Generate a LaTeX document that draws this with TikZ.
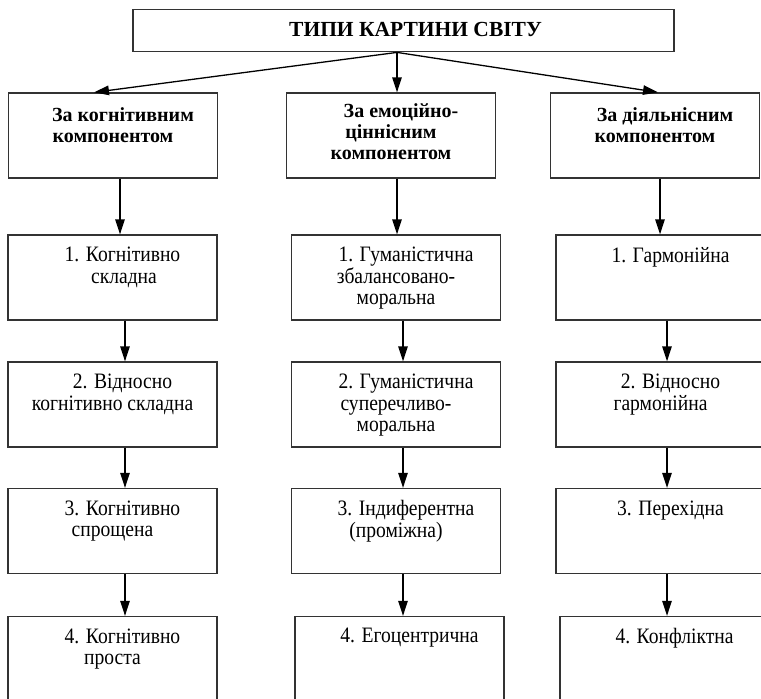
\documentclass[tikz,border=0pt]{standalone}
\usepackage{fontspec}
\setmainfont{Liberation Serif}
\newfontfamily\condfont{Liberation Serif}[FakeStretch=0.89]
\usetikzlibrary{positioning, arrows.meta, calc}
\newcommand{\indl}{\hspace*{20pt}}

\begin{document}
\begin{tikzpicture}[x=1pt, y=-1pt, ->, >={Triangle[length=15pt,width=9.5pt]}, line width=1.3pt,
  box/.style={draw=black!80, line width=1.3pt, minimum width=209pt, minimum height=85pt, inner sep=0pt},
  txt/.style={anchor=north, align=center, inner sep=0pt, font=\condfont\fontsize{22}{21.7}\selectfont},
  btxt/.style={txt, font=\fontsize{20}{21}\selectfont\bfseries}]
  \useasboundingbox (0,0) rectangle (761,699);
  \node[box, minimum width=541pt, minimum height=42.5pt] (types) at (403.5,30.5) {};
  \node[btxt, anchor=center, font=\fontsize{21.5}{22}\selectfont\bfseries] (typest) at ([xshift=12pt,yshift=1pt]types.center) {ТИПИ КАРТИНИ СВІТУ};
  % components
  \node[box] (cogn) at (113,135.5) {};
  \node[box] (emo) at (391,135.5) {};
  \node[box] (act) at (655,135.5) {};
  \node[btxt] (cognt) at ([yshift=-15pt]cogn.north) {\indl За когнітивним\\компонентом};
  \node[btxt] (emot) at ([yshift=-11pt]emo.north) {\indl За емоційно-\\ціннісним\\компонентом};
  \node[btxt] (actt) at ([yshift=-15pt]act.north) {\indl За діяльнісним\\компонентом};
  % left column
  \node[box] (cogn1) at (112.5,277.5) {};
  \node[box] (cogn2) at (112.5,404.5) {};
  \node[box] (cogn3) at (112.5,531) {};
  \node[box] (cogn4) at (112.5,659) {};
  \node[txt] (cogn1t) at ([yshift=-12pt]cogn1.north) {\indl 1. Когнітивно\\\hspace*{23pt}складна};
  \node[txt] (cogn2t) at ([yshift=-12pt]cogn2.north) {\indl 2. Відносно\\когнітивно складна};
  \node[txt] (cogn3t) at ([yshift=-12pt]cogn3.north) {\indl 3. Когнітивно\\спрощена};
  \node[txt] (cogn4t) at ([yshift=-12pt]cogn4.north) {\indl 4. Когнітивно\\проста};
  % middle column
  \node[box] (emo1) at (396,277.5) {};
  \node[box] (emo2) at (396,404.5) {};
  \node[box] (emo3) at (396,531) {};
  \node[box] (emo4) at (399.5,659) {};
  \node[txt] (emo1t) at ([yshift=-12pt]emo1.north) {\indl 1. Гуманістична\\збалансовано-\\моральна};
  \node[txt] (emo2t) at ([yshift=-12pt]emo2.north) {\indl 2. Гуманістична\\суперечливо-\\моральна};
  \node[txt] (emo3t) at ([yshift=-12pt]emo3.north) {\indl 3. Індиферентна\\(проміжна)};
  \node[txt] (emo4t) at ([yshift=-12pt]emo4.north) {\indl 4. Егоцентрична};
  % right column
  \node[box] (act1) at (660.5,277.5) {};
  \node[box] (act2) at (660.5,404.5) {};
  \node[box] (act3) at (660.5,531) {};
  \node[box] (act4) at (664.5,659) {};
  \node[txt] (act1t) at ([yshift=-12pt]act1.north) {\indl 1. Гармонійна};
  \node[txt] (act2t) at ([yshift=-12pt]act2.north) {\indl 2. Відносно\\гармонійна};
  \node[txt] (act3t) at ([yshift=-12pt]act3.north) {\indl 3. Перехідна};
  \node[txt] (act4t) at ([yshift=-12pt]act4.north) {\indl 4. Конфліктна};

  \path
    ([xshift=-6.5pt]types.south) edge ([xshift=-19pt]cogn.north)
    ([xshift=-6.5pt]types.south) edge ([xshift=6pt]emo.north)
    ([xshift=-6.5pt]types.south) edge ([xshift=3pt]act.north)
    ([xshift=7pt]cogn.south) edge ([xshift=7pt]cogn.south |- cogn1.north)
    ([xshift=6pt]emo.south) edge ([xshift=6pt]emo.south |- emo1.north)
    ([xshift=5pt]act.south) edge ([xshift=5pt]act.south |- act1.north)
    ([xshift=12.5pt]cogn1.south) edge ([xshift=12.5pt]cogn2.north)
    ([xshift=12.5pt]cogn2.south) edge ([xshift=12.5pt]cogn3.north)
    ([xshift=12.5pt]cogn3.south) edge ([xshift=12.5pt]cogn3.south |- cogn4.north)
    ([xshift=7pt]emo1.south) edge ([xshift=7pt]emo2.north)
    ([xshift=7pt]emo2.south) edge ([xshift=7pt]emo3.north)
    ([xshift=7pt]emo3.south) edge ([xshift=7pt]emo3.south |- emo4.north)
    ([xshift=6.5pt]act1.south) edge ([xshift=6.5pt]act2.north)
    ([xshift=6.5pt]act2.south) edge ([xshift=6.5pt]act3.north)
    ([xshift=6.5pt]act3.south) edge ([xshift=6.5pt]act3.south |- act4.north);
\end{tikzpicture}
\end{document}
